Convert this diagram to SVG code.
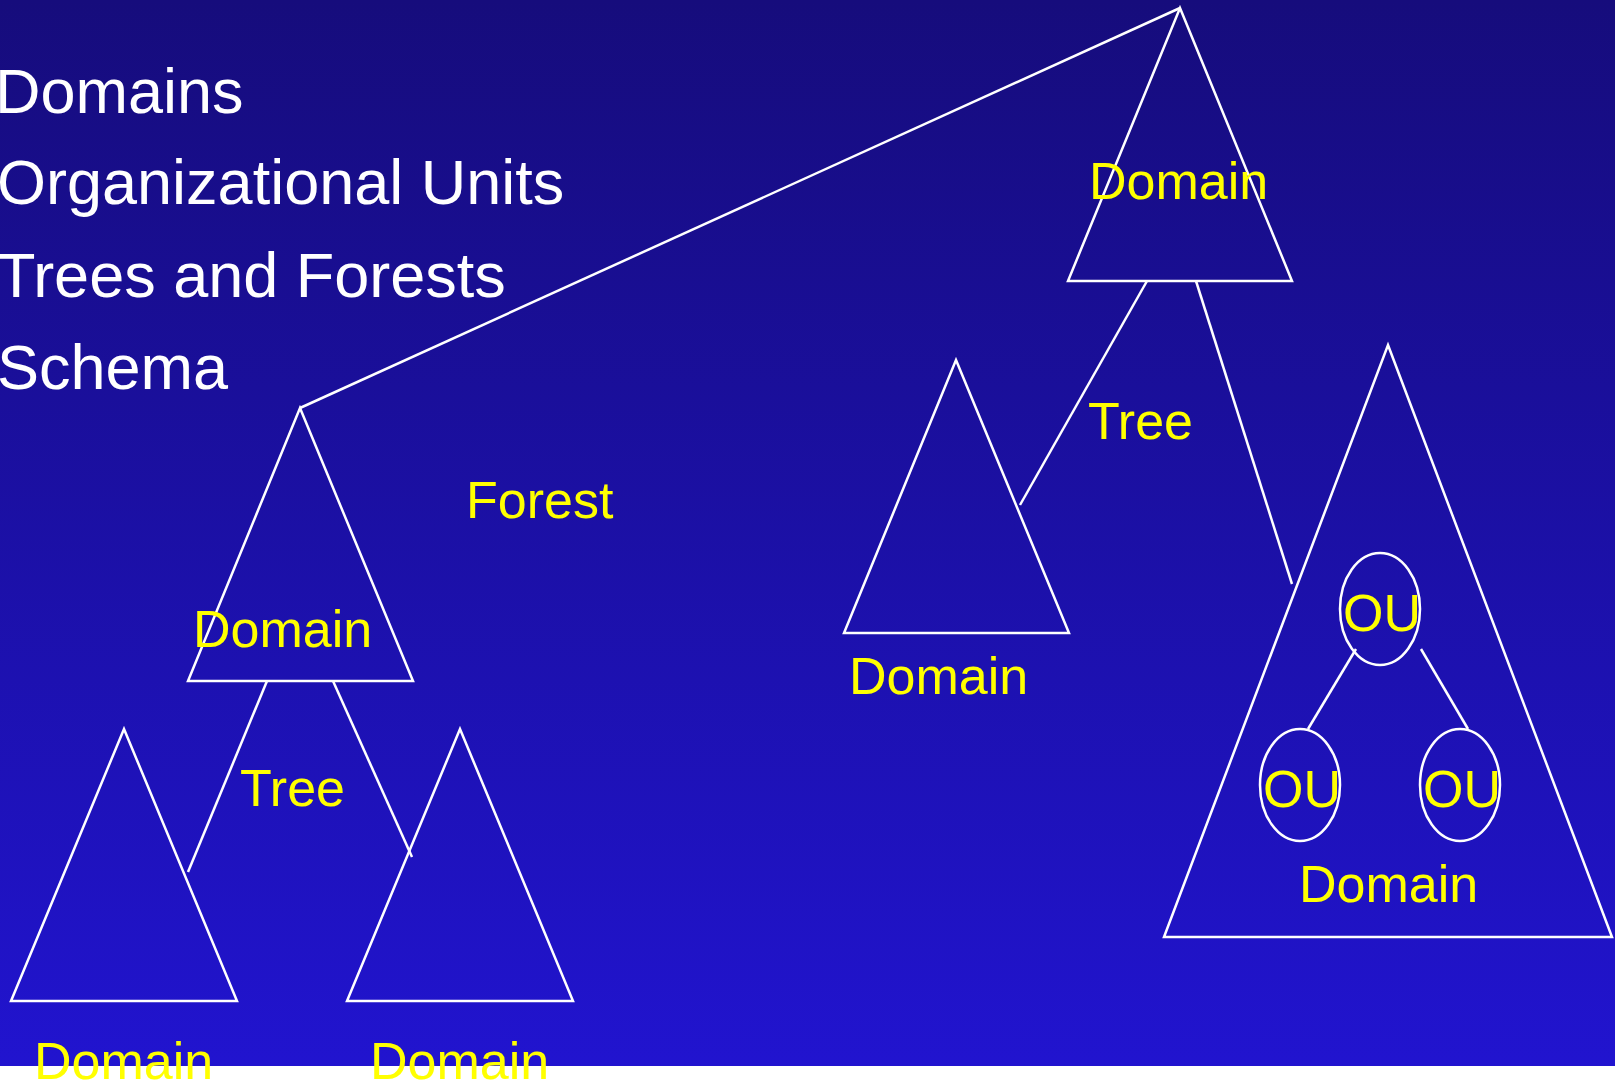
<svg xmlns="http://www.w3.org/2000/svg" width="1615" height="1081" viewBox="0 0 1615 1081">
<defs>
<linearGradient id="bg" x1="0" y1="0" x2="0" y2="1">
<stop offset="0" stop-color="#160c7c"/>
<stop offset="1" stop-color="#2114cf"/>
</linearGradient>
<style>
.shape{fill:none;stroke:#ffffff;stroke-width:2.5;stroke-linejoin:miter}
.lbl{font-family:"Liberation Sans",Arial,sans-serif;fill:#ffff00;font-size:52px}
.ttl{font-family:"Liberation Sans",Arial,sans-serif;fill:#ffffff;font-size:63px}
</style>
</defs>
<rect x="0" y="0" width="1615" height="1081" fill="#ffffff"/>
<rect x="0" y="0" width="1615" height="1066" fill="url(#bg)"/>
<g id="titles">
<text class="ttl" x="-5" y="113">Domains</text>
<text class="ttl" x="-3" y="204">Organizational Units</text>
<text class="ttl" x="-3" y="297">Trees and Forests</text>
<text class="ttl" x="-3" y="389">Schema</text>
</g>
<g id="connectors">
<line class="shape" x1="300" y1="408" x2="1180" y2="8"/>
<line class="shape" x1="1147" y1="281" x2="1020" y2="505"/>
<line class="shape" x1="1196" y1="281" x2="1292" y2="584"/>
<line class="shape" x1="267" y1="681" x2="188" y2="872"/>
<line class="shape" x1="333" y1="681" x2="412" y2="857"/>
<line class="shape" x1="1356" y1="649" x2="1308" y2="729"/>
<line class="shape" x1="1421" y1="649" x2="1468" y2="729"/>
</g>
<g id="domain-root">
<polygon class="shape" points="1180,8 1292,281 1068,281"/>
<text class="lbl" x="1089" y="199">Domain</text>
</g>
<g id="domain-left">
<polygon class="shape" points="300,408 413,681 188,681"/>
<text class="lbl" x="193" y="647">Domain</text>
</g>
<g id="domain-left-a">
<polygon class="shape" points="124,729 237,1001 11,1001"/>
<text class="lbl" x="34" y="1079">Domain</text>
</g>
<g id="domain-left-b">
<polygon class="shape" points="460,729 573,1001 347,1001"/>
<text class="lbl" x="370" y="1079">Domain</text>
</g>
<g id="domain-mid">
<polygon class="shape" points="956,360 1069,633 844,633"/>
<text class="lbl" x="849" y="694">Domain</text>
</g>
<g id="domain-right">
<polygon class="shape" points="1388,345 1612,937 1164,937"/>
<text class="lbl" x="1299" y="902">Domain</text>
</g>
<g id="ou-top">
<ellipse class="shape" cx="1380" cy="609" rx="40" ry="56"/>
<text class="lbl" x="1343" y="631">OU</text>
</g>
<g id="ou-left">
<ellipse class="shape" cx="1300" cy="785" rx="40" ry="56"/>
<text class="lbl" x="1263" y="807">OU</text>
</g>
<g id="ou-right">
<ellipse class="shape" cx="1460" cy="785" rx="40" ry="56"/>
<text class="lbl" x="1423" y="807">OU</text>
</g>
<g id="labels">
<text class="lbl" x="466" y="518">Forest</text>
<text class="lbl" x="240" y="806">Tree</text>
<text class="lbl" x="1088" y="439">Tree</text>
</g>
</svg>
